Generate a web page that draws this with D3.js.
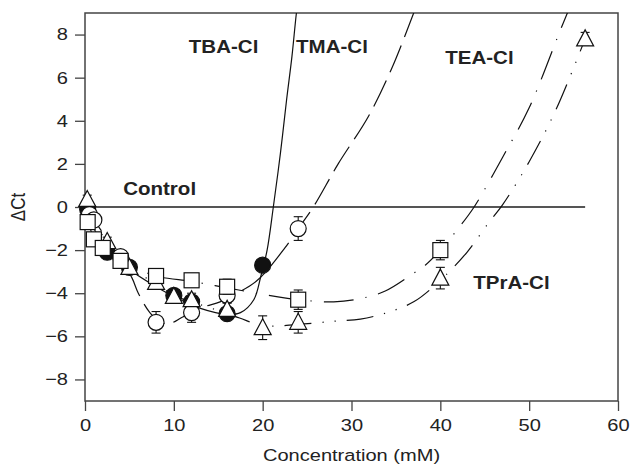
<!DOCTYPE html>
<html>
<head>
<meta charset="utf-8">
<script src="https://cdn.jsdelivr.net/npm/d3@7"></script>
<style>
  html, body { margin: 0; padding: 0; background: #fff; }
  svg { display: block; font-family: "Liberation Sans", Arial, Helvetica, sans-serif; }
</style>
</head>
<body>
<svg id="chart" width="632" height="469"></svg>
<script>
// ---- Measured points (concentration in mM, ΔCt, error) ----
const tbaConc = [0.3, 2.5, 5, 10, 12, 16, 20];
const tbaDct  = [-0.1, -2.1, -2.8, -4.1, -4.4, -4.95, -2.7];
const tbaErr  = [0.1, 0.2, 0.2, 0.2, 0.2, 0.25, 0.2];

const tmaConc = [0.5, 1, 4, 8, 12, 16, 24];
const tmaDct  = [-0.35, -0.6, -2.3, -5.35, -4.9, -4.1, -1.0];
const tmaErr  = [0.2, 0.2, 0.25, 0.5, 0.45, 0.35, 0.55];

const teaConc = [0.3, 1, 2, 4, 8, 12, 16, 24, 40];
const teaDct  = [-0.7, -1.5, -1.9, -2.5, -3.2, -3.4, -3.7, -4.3, -2.0];
const teaErr  = [0.2, 0.2, 0.25, 0.2, 0.3, 0.25, 0.35, 0.45, 0.45];

const tpraConc = [0.25, 2.5, 5, 8, 10, 12, 16, 20, 24, 40, 56.3];
const tpraDct  = [0.35, -1.6, -2.8, -3.5, -4.15, -4.3, -4.75, -5.6, -5.35, -3.3, 7.8];
const tpraErr  = [0.2, 0.2, 0.2, 0.3, 0.25, 0.3, 0.3, 0.55, 0.5, 0.5, 0.3];

// ---- Fitted trend curves ----
const tbaFitX = [0, 1, 2.5, 5, 8, 10, 13, 16, 17.5, 19, 19.8, 20.5, 21.2, 22, 22.7, 23.3, 23.8, 24.2];
const tbaFitY = [0, -1.0, -2.0, -2.9, -3.7, -4.15, -4.7, -4.98, -4.9, -4.3, -3.2, -2.0, 0, 2.5, 5, 7, 9, 10.2];

const tmaFitX = [0, 1, 2.5, 4, 5.3, 6, 7.3, 8.5, 9.6, 11, 12, 13.3, 15.2, 17.1, 19.4, 22.5, 24, 25.7, 28.5, 31.9, 34.5, 37, 38];
const tmaFitY = [0, -0.6, -1.5, -2.4, -3.3, -4.0, -4.9, -5.35, -5.4, -5.1, -4.95, -4.65, -4.4, -4.0, -3.4, -1.9, -1.0, 0, 2.0, 4.2, 6.4, 9, 10.1];

const teaFitX = [0, 0.5, 1, 2, 4, 8, 12, 16, 20, 24, 28, 31, 33.8, 36.9, 38.3, 40, 42.2, 43.8, 47, 50, 53.5, 54.3, 55];
const teaFitY = [0, -0.9, -1.4, -1.9, -2.5, -3.2, -3.45, -3.75, -4.05, -4.3, -4.4, -4.25, -3.9, -3.1, -2.7, -2.0, -0.9, 0, 2.3, 4.6, 8.2, 9, 9.7];

const tpraFitX = [0, 0.5, 2.5, 5, 8, 10, 12, 15, 17.4, 20, 24, 28, 31, 34, 37, 40, 43, 45.4, 47, 50, 53, 56.3];
const tpraFitY = [0.3, -0.4, -1.6, -2.8, -3.55, -4.1, -4.4, -4.8, -5.15, -5.5, -5.45, -5.3, -5.2, -4.9, -4.4, -3.4, -2.1, -0.75, 0.1, 2.1, 4.5, 7.8];

const controlX = [0, 56.3];
const controlY = [0, 0];

// ---- Axes ticks and labels ----
const xTicks = [0, 10, 20, 30, 40, 50, 60];
const yTicks = [-8, -6, -4, -2, 0, 2, 4, 6, 8];
const xTitle = "Concentration (mM)";
const yTitle = "ΔCt";

const seriesLabels = [
  { text: "TBA-Cl", x: 15.6, y: 7.45 },
  { text: "TMA-Cl", x: 27.8, y: 7.45 },
  { text: "TEA-Cl", x: 44.4, y: 6.95 },
  { text: "Control", x: 8.4, y: 0.85 },
  { text: "TPrA-Cl", x: 48.0, y: -3.5 }
];

// ---- Layout ----
const svg = d3.select("#chart");
const plotLeft = 85, plotRight = 618, plotTop = 13, plotBottom = 401;
const stretch = 1.18;          // glyphs are set slightly wide
const tickFont = 17;

const x = d3.scaleLinear().domain([0, 60]).range([plotLeft, plotRight]);
const y = d3.scaleLinear().domain([-9, 9]).range([plotBottom, plotTop]);

svg.append("defs").append("clipPath").attr("id", "plotClip")
  .append("rect").attr("x", plotLeft).attr("y", plotTop)
  .attr("width", plotRight - plotLeft).attr("height", plotBottom - plotTop);

const fmt = d => d < 0 ? "\u2212" + Math.abs(d) : String(d);

const yAxis = svg.append("g").attr("transform", `translate(${plotLeft},0)`)
  .call(d3.axisLeft(y).tickValues(yTicks).tickSize(10).tickPadding(7).tickFormat(fmt));
const xAxis = svg.append("g").attr("transform", `translate(0,${plotBottom})`)
  .call(d3.axisBottom(x).tickValues(xTicks).tickSize(10).tickPadding(8).tickFormat(fmt));

[xAxis, yAxis].forEach(g => {
  g.select(".domain").remove();
  g.selectAll(".tick line").attr("stroke", "#444").attr("stroke-width", 1.3);
  g.selectAll(".tick text").attr("fill", "#222").style("font-size", tickFont + "px");
});
// widen the tick glyphs around their anchor
yAxis.selectAll(".tick text").each(function () {
  const t = d3.select(this);
  t.attr("x", +t.attr("x") / stretch).attr("transform", `scale(${stretch},1)`);
});
xAxis.selectAll(".tick text").attr("transform", `scale(${stretch},1)`);

// frame
svg.append("rect").attr("x", plotLeft).attr("y", plotTop)
  .attr("width", plotRight - plotLeft).attr("height", plotBottom - plotTop)
  .attr("fill", "none").attr("stroke", "#444").attr("stroke-width", 1.5);

svg.append("text")
  .attr("transform", `translate(${(plotLeft + plotRight) / 2},461) scale(${stretch},1)`)
  .attr("text-anchor", "middle").attr("fill", "#222")
  .style("font-size", tickFont + "px").text(xTitle);

svg.append("text").attr("transform", `translate(25,${y(0)}) rotate(-90) scale(1,${stretch})`)
  .attr("text-anchor", "middle").attr("fill", "#222")
  .style("font-size", tickFont + "px").text(yTitle);

// ---- Lines ----
const plot = svg.append("g").attr("clip-path", "url(#plotClip)");

const zip = (xs, ys) => xs.map((v, i) => [v, ys[i]]);
const line = d3.line().x(d => x(d[0])).y(d => y(d[1])).curve(d3.curveCatmullRom.alpha(0.5));

plot.append("path").datum(zip(controlX, controlY))
  .attr("d", d3.line().x(d => x(d[0])).y(d => y(d[1])))
  .attr("fill", "none").attr("stroke", "#555").attr("stroke-width", 2);

const fits = [
  { data: zip(tbaFitX, tbaFitY), dash: null },
  { data: zip(tmaFitX, tmaFitY), dash: "29,9" },
  { data: zip(teaFitX, teaFitY), dash: "30,12,1.2,12" },
  { data: zip(tpraFitX, tpraFitY), dash: "27,11,1.2,11,1.2,11" }
];
fits.forEach(f => {
  plot.append("path").datum(f.data).attr("d", line)
    .attr("fill", "none").attr("stroke", "#111").attr("stroke-width", 1.2)
    .attr("stroke-dasharray", f.dash);
});

// ---- Markers with error bars ----
const series = [
  { xs: tbaConc, ys: tbaDct, es: tbaErr, shape: "circle", fill: "#111" },
  { xs: tmaConc, ys: tmaDct, es: tmaErr, shape: "circle", fill: "#fff" },
  { xs: tpraConc, ys: tpraDct, es: tpraErr, shape: "triangle", fill: "#fff" },
  { xs: teaConc, ys: teaDct, es: teaErr, shape: "square", fill: "#fff" }
];

const cap = 4.5;
series.forEach(s => {
  const g = svg.append("g");
  s.xs.forEach((cx, i) => {
    const px = x(cx), py = y(s.ys[i]);
    const y1 = y(s.ys[i] + s.es[i]), y2 = y(s.ys[i] - s.es[i]);
    const eb = g.append("g").attr("stroke", "#111").attr("stroke-width", 1.1);
    eb.append("line").attr("x1", px).attr("x2", px).attr("y1", y1).attr("y2", y2);
    eb.append("line").attr("x1", px - cap).attr("x2", px + cap).attr("y1", y1).attr("y2", y1);
    eb.append("line").attr("x1", px - cap).attr("x2", px + cap).attr("y1", y2).attr("y2", y2);

    let m;
    if (s.shape === "circle") {
      m = g.append("circle").attr("cx", px).attr("cy", py).attr("r", 8);
    } else if (s.shape === "square") {
      m = g.append("rect").attr("x", px - 7.5).attr("y", py - 7.5).attr("width", 15).attr("height", 15);
    } else {
      m = g.append("path").attr("d", `M${px},${py - 9}L${px + 8.5},${py + 7}L${px - 8.5},${py + 7}Z`);
    }
    m.attr("fill", s.fill).attr("stroke", "#111").attr("stroke-width", 1.2);
  });
});

// ---- Series labels ----
svg.append("g").selectAll("text").data(seriesLabels).join("text")
  .attr("transform", d => `translate(${x(d.x)},${y(d.y)}) scale(1.08,1)`)
  .attr("text-anchor", "middle").attr("dominant-baseline", "central")
  .attr("fill", "#222").style("font-size", "19px").style("font-weight", "bold")
  .text(d => d.text);
</script>
</body>
</html>
